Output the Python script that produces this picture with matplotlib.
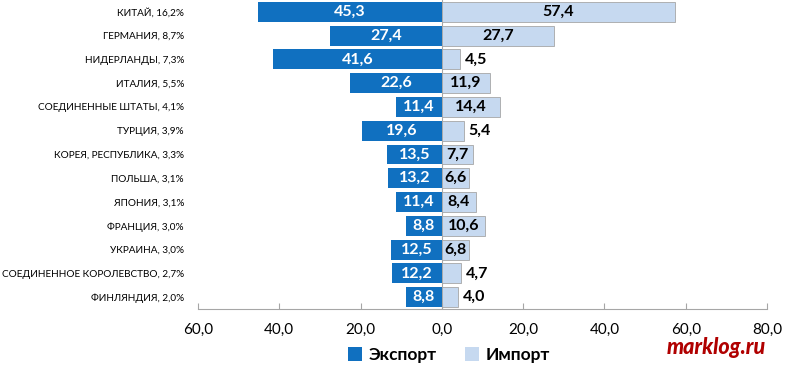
import numpy as np
import matplotlib.pyplot as plt
from matplotlib.ticker import FuncFormatter

countries = ['КИТАЙ, 16,2%', 'ГЕРМАНИЯ, 8,7%', 'НИДЕРЛАНДЫ, 7,3%', 'ИТАЛИЯ, 5,5%',
             'СОЕДИНЕННЫЕ ШТАТЫ, 4,1%', 'ТУРЦИЯ, 3,9%', 'КОРЕЯ, РЕСПУБЛИКА, 3,3%',
             'ПОЛЬША, 3,1%', 'ЯПОНИЯ, 3,1%', 'ФРАНЦИЯ, 3,0%', 'УКРАИНА, 3,0%',
             'СОЕДИНЕННОЕ КОРОЛЕВСТВО, 2,7%', 'ФИНЛЯНДИЯ, 2,0%']
export = [45.3, 27.4, 41.6, 22.6, 11.4, 19.6, 13.5, 13.2, 11.4, 8.8, 12.5, 12.2, 8.8]
imports = [57.4, 27.7, 4.5, 11.9, 14.4, 5.4, 7.7, 6.6, 8.4, 10.6, 6.8, 4.7, 4.0]
xticks = [-60, -40, -20, 0, 20, 40, 60, 80]

plt.rcParams['font.family'] = ['Lato', 'DejaVu Sans']

exp_color = '#1070C0'
imp_color = '#C6D9F0'


def fmt(v):
    return f'{v:.1f}'.replace('.', ',')


fig = plt.figure(figsize=(7.85, 3.67), dpi=100)
ax = fig.add_axes([198 / 785, 1 - 309 / 367, 569 / 785, 309 / 367])

y = np.arange(len(countries))
h = 0.84
ax.barh(y, [-v for v in export], height=h, color=exp_color, label='Экспорт')
ax.barh(y, imports, height=h, color=imp_color, edgecolor='#A6A6A6', linewidth=0.6,
        label='Импорт')

for i, v in enumerate(export):
    ax.text(-v / 2, i, fmt(v), ha='center', va='center', color='white',
            fontsize=11.5, fontweight='bold')
for i, v in enumerate(imports):
    if v >= 6:
        ax.text(v / 2, i, fmt(v), ha='center', va='center', color='black',
                fontsize=11.5, fontweight='bold')
    else:
        ax.text(v + 1.2, i, fmt(v), ha='left', va='center', color='black',
                fontsize=11.5, fontweight='bold')

ax.axvline(0, color='#A6A6A6', linewidth=0.8, zorder=0)

ax.set_xlim(-60, 80)
ax.set_ylim(len(countries) - 0.5, -0.5)
ax.set_xticks(xticks)
ax.xaxis.set_major_formatter(FuncFormatter(lambda v, p: fmt(abs(v))))
ax.set_yticks(y)
ax.set_yticklabels(countries, fontsize=7.2)
ax.tick_params(axis='y', length=0, pad=10)
ax.tick_params(axis='x', direction='in', length=4, color='#A6A6A6', labelsize=11,
               pad=10)
for s in ['top', 'right', 'left']:
    ax.spines[s].set_visible(False)
ax.spines['bottom'].set_color('#A6A6A6')

leg = fig.legend(loc='center', bbox_to_anchor=(449 / 785, 1 - 355 / 367), ncol=2,
                 frameon=False, prop={'size': 12.5, 'weight': 'bold'},
                 handlelength=0.8, handleheight=0.8, handletextpad=0.4,
                 columnspacing=1.6)
for hnd in leg.legend_handles:
    hnd.set_linewidth(0)

fig.text(716 / 785, 1 - 348 / 367, 'marklog.ru', color='#B00000', fontsize=15.5,
         fontweight='black', fontstyle='italic', ha='center', va='center')

plt.savefig('out.png', dpi=100)
